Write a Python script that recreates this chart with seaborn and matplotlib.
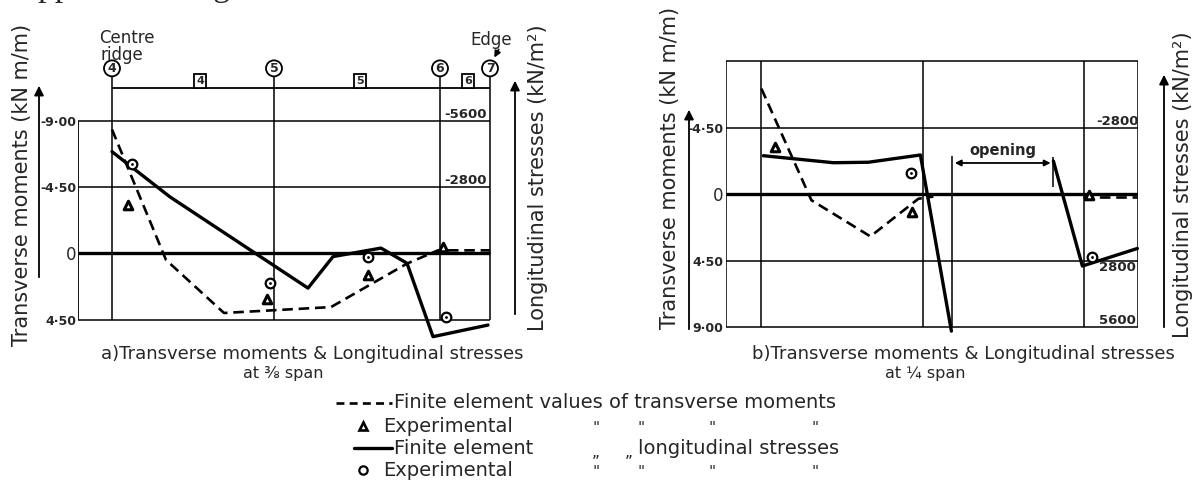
import numpy as np
import pandas as pd
import matplotlib
matplotlib.use('Agg')
import matplotlib.pyplot as plt
from matplotlib.patches import FancyArrowPatch
from matplotlib.lines import Line2D
import seaborn as sns

# figure size in pixels (positions below are given in pixels from top-left)
W, H = 1203, 486

# stations across the roof: 4 = centre ridge ... 7 = edge
node_x = [0, 162, 328, 378]
node_lbl = ['4', '5', '6', '7']
elem_x = [88, 248, 356]
elem_lbl = ['4', '5', '6']

# a) 3/8 span
a_fem_x = [0, 54, 112, 219, 295, 326, 378]
a_fem = [-8.4, 0.45, 4.05, 3.65, 0.7, -0.2, -0.2]          # kN m/m
a_fes_x = [0, 58, 196, 221, 269, 295, 321, 376]
a_fes = [-4290, -2380, 1470, 140, -220, 420, 3520, 3030]   # kN/m2
a_exm_x = [16, 155, 256, 331]
a_exm = [-3.3, 3.1, 1.45, -0.45]
a_exs_x = [20, 158, 256, 334]
a_exs = [-3770, 1240, 140, 2700]

# b) 1/4 span
b_fem_x = [0, 50, 109, 157, 172, 322, 376]
b_fem = [-7.15, 0.4, 2.85, 0.3, 0.15, 0.2, 0.2]
b_fem_seg = [0, 0, 0, 0, 0, 1, 1]
b_fes_x = [2, 72, 107, 159, 190, 292, 321, 376]
b_fes = [-1625, -1330, -1350, -1655, 5760, -1400, 3020, 2280]
b_fes_seg = [0, 0, 0, 0, 0, 1, 1, 1]
b_exm_x = [14, 151, 328]
b_exm = [-3.2, 1.2, 0.05]
b_exs_x = [150, 331]
b_exs = [-880, 2660]
opening = [190.6, 292]

a_mom_ticks = [-9, -4.5, 0, 4.5]
a_mom_lbls = ['-9·00', '-4·50', '0', '4·50']
b_mom_ticks = [-4.5, 0, 4.5, 9]
b_mom_lbls = ['-4·50', '0', '4·50', '9·00']
a_str_ticks = [-5600, -2800]
b_str_ticks = [-2800, 2800, 5600]

K = 2800 / 4.5   # stress per moment unit on the drawings

sns.set_style('white')
plt.rcParams['font.family'] = ['DejaVu Sans']


def fx(px):
    return px / W


def fy(py):
    return 1 - py / H


fig = plt.figure(figsize=(W / 100, H / 100), dpi=100)

# ---------- panel a ----------
ax_a = fig.add_axes([fx(78), fy(340), (493 - 78) / W, (340 - 60) / H])
ax_a.set_xlim(-34, 381)
ax_a.set_ylim(5.884, -13.117)
ax_a2 = ax_a.twinx()
ax_a2.set_ylim(np.array(ax_a.get_ylim()) * K)

# ---------- panel b ----------
ax_b = fig.add_axes([fx(726), fy(340), (1138 - 726) / W, (340 - 50) / H])
ax_b.set_xlim(-35.4, 376.6)
ax_b.set_ylim(9.859, -9.765)
ax_b2 = ax_b.twinx()
ax_b2.set_ylim(np.array(ax_b.get_ylim()) * K)

for ax in [ax_a, ax_a2, ax_b, ax_b2]:
    for s in ax.spines.values():
        s.set_visible(False)
    ax.set_xticks([])
    ax.set_yticks([])
    ax.patch.set_alpha(0)

# grid / frame of panel a
ax_a.hlines([-9, -4.5, 4.5], -34, 378, color='k', lw=1.1)
ax_a.hlines(0, -34, 378, color='k', lw=2.4)
ax_a.hlines(-11.22, 0, 378, color='k', lw=1.3)
ax_a.vlines(-34, -9, 4.5, color='k', lw=1.3)
ax_a.vlines(node_x, -12.1, 4.5, color='k', lw=1.1)
for x, l in zip(node_x, node_lbl):
    ax_a.text(x, -12.55, l, ha='center', va='center', fontsize=9, fontweight='bold',
              bbox=dict(boxstyle='circle,pad=0.12', fc='white', ec='k', lw=1.3))
for x, l in zip(elem_x, elem_lbl):
    ax_a.text(x, -11.7, l, ha='center', va='center', fontsize=8, fontweight='bold',
              bbox=dict(boxstyle='square,pad=0.2', fc='white', ec='k', lw=1.3))
ax_a.set_yticks(a_mom_ticks, a_mom_lbls)
ax_a.tick_params(axis='y', length=0, pad=1, labelsize=9)
for t in a_str_ticks:
    ax_a2.text(353, t, '-%d' % abs(t) if t < 0 else str(t), ha='center', va='bottom',
               fontsize=9.5, fontweight='bold')

# grid / frame of panel b
ax_b.hlines([-9, -4.5, 4.5, 9], -35.4, 376.6, color='k', lw=1.1)
ax_b.hlines(0, -35.4, 376.6, color='k', lw=2.4)
ax_b.vlines([-35.4, 0, 161.6, 322.6, 376.6], -9, 9, color='k', lw=1.1)
ax_b.vlines(opening[0], -2.59, 9, color='k', lw=1.1)
ax_b.vlines(opening[1], -2.5, -0.5, color='k', lw=1.1)
ax_b.set_yticks(b_mom_ticks, b_mom_lbls)
ax_b.tick_params(axis='y', length=0, pad=2, labelsize=9)
ax_b.annotate('', xy=(opening[0], -2.12), xytext=(opening[1], -2.12),
              arrowprops=dict(arrowstyle='<|-|>', color='k', lw=1.3, mutation_scale=9))
ax_b.text(sum(opening) / 2, -2.95, 'opening', ha='center', va='center',
          fontsize=10.5, fontweight='bold')
for t, va in zip(b_str_ticks, ['bottom', 'top', 'bottom']):
    ax_b2.text(356, t, ('-%d' % abs(t)) if t < 0 else str(t),
               ha='center', va=va, fontsize=9.5, fontweight='bold')

for ax in (ax_a, ax_b):
    for lab in ax.get_yticklabels():
        lab.set_fontweight('bold')
        if lab.get_text() == '0':
            lab.set_fontsize(12)
            lab.set_fontweight('normal')

# ---------- data ----------
dash = (0, (4, 2.2))


def draw(ax, ax2, mx, my, sx, sy, emx, emy, esx, esy, mseg=None, sseg=None):
    dm = pd.DataFrame({'x': mx, 'y': my, 'seg': mseg if mseg else [0] * len(mx)})
    ds = pd.DataFrame({'x': sx, 'y': sy, 'seg': sseg if sseg else [0] * len(sx)})
    sns.lineplot(data=dm, x='x', y='y', units='seg', estimator=None, sort=False,
                 color='k', lw=1.9, linestyle=dash, ax=ax)
    sns.lineplot(data=ds, x='x', y='y', units='seg', estimator=None, sort=False,
                 color='k', lw=2.4, ax=ax2, clip_on=False)
    sns.scatterplot(x=emx, y=emy, marker='^', s=38, color='white', edgecolor='k',
                    linewidth=2.2, ax=ax, zorder=6, clip_on=False)
    sns.scatterplot(x=esx, y=esy, marker='o', s=48, color='white', edgecolor='k',
                    linewidth=1.6, ax=ax2, zorder=6, clip_on=False)
    sns.scatterplot(x=esx, y=esy, marker='o', s=4, color='k', linewidth=0,
                    ax=ax2, zorder=7, clip_on=False)
    for a in (ax, ax2):
        a.set_xlabel('')
        a.set_ylabel('')


draw(ax_a, ax_a2, a_fem_x, a_fem, a_fes_x, a_fes, a_exm_x, a_exm, a_exs_x, a_exs)
draw(ax_b, ax_b2, b_fem_x, b_fem, b_fes_x, b_fes, b_exm_x, b_exm, b_exs_x, b_exs,
     b_fem_seg, b_fes_seg)
ax_a.set_xlim(-34, 381)
ax_b.set_xlim(-35.4, 376.6)

# ---------- axis labels and arrows ----------
def arrow(x, y0, y1):
    fig.add_artist(FancyArrowPatch((fx(x), fy(y0)), (fx(x), fy(y1)), transform=fig.transFigure,
                                   arrowstyle='-|>', mutation_scale=14, lw=1.3, color='k'))


arrow(39, 280, 83)
arrow(515, 317, 78)
arrow(689, 332, 107)
arrow(1164, 330, 72)
fig.text(fx(22), fy(185), 'Transverse moments (kN m/m)', rotation=90, ha='center', va='center', fontsize=15)
fig.text(fx(538), fy(178), 'Longitudinal stresses (kN/m²)', rotation=90, ha='center', va='center', fontsize=15)
fig.text(fx(670), fy(168), 'Transverse moments (kN m/m)', rotation=90, ha='center', va='center', fontsize=15)
fig.text(fx(1183), fy(185), 'Longitudinal stresses (kN/m²)', rotation=90, ha='center', va='center', fontsize=15)

fig.text(fx(99), fy(38), 'Centre', ha='left', va='center', fontsize=12)
fig.text(fx(100), fy(55), 'ridge', ha='left', va='center', fontsize=12)
fig.text(fx(491), fy(40), 'Edge', ha='center', va='center', fontsize=12)
fig.add_artist(FancyArrowPatch((fx(500), fy(47)), (fx(493), fy(60)), transform=fig.transFigure,
                               arrowstyle='-|>', mutation_scale=9, lw=1.3, color='k'))

# cut-off line of page text at the very top (only descenders show)
fig.text(fx(14), fy(-4), 'Applied loading', ha='left', va='baseline', fontsize=24,
         family='Liberation Serif')

# ---------- captions ----------
fig.text(fx(312), fy(354), 'a)Transverse moments & Longitudinal stresses', ha='center', va='center', fontsize=13)
fig.text(fx(283), fy(373), 'at ⅜ span', ha='center', va='center', fontsize=11.5)
fig.text(fx(963), fy(354), 'b)Transverse moments & Longitudinal stresses', ha='center', va='center', fontsize=13)
fig.text(fx(925), fy(373), 'at ¼ span', ha='center', va='center', fontsize=11.5)

# ---------- key ----------
rows = [403, 426, 448, 470]
fig.add_artist(Line2D([fx(336), fx(392)], [fy(rows[0])] * 2, color='k', lw=1.9, linestyle=(0, (3, 2))))
fig.add_artist(Line2D([fx(354), fx(392)], [fy(rows[2])] * 2, color='k', lw=2.4))
fig.add_artist(Line2D([fx(363)], [fy(rows[1])], marker='^', ms=6, mfc='white', mec='k', mew=1.9, ls=''))
fig.add_artist(Line2D([fx(363)], [fy(rows[3])], marker='o', ms=6, mfc='white', mec='k', mew=1.6, ls=''))
fig.text(fx(394), fy(rows[0]), 'Finite element values of transverse moments', va='center', fontsize=14)
fig.text(fx(383), fy(rows[1]), 'Experimental', va='center', fontsize=14)
fig.text(fx(394), fy(rows[2]), 'Finite element', va='center', fontsize=14)
fig.text(fx(638), fy(rows[2]), 'longitudinal stresses', va='center', fontsize=14)
fig.text(fx(383), fy(rows[3]), 'Experimental', va='center', fontsize=14)
for r in (rows[1], rows[3]):
    for x in (596, 641, 712, 815):
        fig.text(fx(x), fy(r + 2), '"', ha='center', va='center', fontsize=11)
for x in (596, 629):
    fig.text(fx(x), fy(rows[2] + 4), '„', ha='center', va='center', fontsize=11)

fig.savefig('out.png', dpi=100)
